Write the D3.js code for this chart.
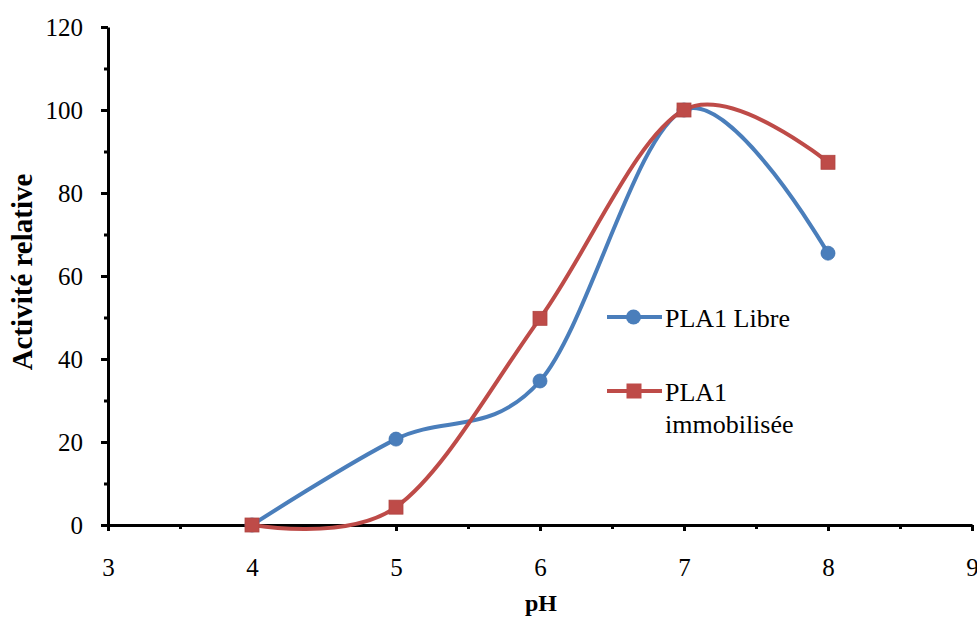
<!DOCTYPE html>
<html>
<head>
<meta charset="utf-8">
<script src="https://cdn.jsdelivr.net/npm/d3@7"></script>
<style>
  body { margin: 0; background: #fff; }
  svg text { font-family: "Liberation Serif", "Times New Roman", serif; fill: #000; }
</style>
</head>
<body>
<svg id="chart" width="977" height="618"></svg>
<script>
// data
var ph = [4, 5, 6, 7, 8];
var libre = [0, 20.7, 34.7, 100, 65.5];
var immob = [0, 4.3, 49.8, 100, 87.4];
var xTicks = [3, 4, 5, 6, 7, 8, 9];
var yTicks = [0, 20, 40, 60, 80, 100, 120];

const svg = d3.select('#chart');

var x = d3.scaleLinear().domain([3, 9]).range([108, 972]);
var y = d3.scaleLinear().domain([0, 120]).range([525, 27]);

// smoothed lines, like Excel
var line = d3.line()
    .x(function(d) { return x(d[0]); })
    .y(function(d) { return y(d[1]); })
    .curve(d3.curveCardinal.tension(0));

// minor ticks
svg.append('g')
    .attr('transform', 'translate(108,0)')
    .call(d3.axisLeft(y).tickValues(d3.range(10, 120, 20)).tickSize(4).tickFormat(''))
    .call(g => g.select('.domain').remove())
    .selectAll('line').attr('stroke', '#000').attr('stroke-width', 3);

svg.append('g')
    .attr('transform', 'translate(0,525)')
    .call(d3.axisBottom(x).tickValues(d3.range(3.5, 9, 1)).tickSize(4).tickFormat(''))
    .call(g => g.select('.domain').remove())
    .selectAll('line').attr('stroke', '#000').attr('stroke-width', 3);

// major axes
var yAxis = svg.append('g')
    .attr('transform', 'translate(108,0)')
    .call(d3.axisLeft(y).tickValues(yTicks).tickSize(7).tickSizeOuter(0).tickPadding(18).tickFormat(d3.format('d')));
yAxis.select('.domain').attr('stroke', '#000').attr('stroke-width', 3);
yAxis.selectAll('line').attr('stroke', '#000').attr('stroke-width', 3);
yAxis.selectAll('text').attr('font-size', 25).attr('font-family', '"Liberation Serif", serif');

var xAxis = svg.append('g')
    .attr('transform', 'translate(0,525)')
    .call(d3.axisBottom(x).tickValues(xTicks).tickSize(6).tickSizeOuter(0).tickPadding(27).tickFormat(d3.format('d')));
xAxis.select('.domain').attr('stroke', '#000').attr('stroke-width', 3);
xAxis.selectAll('line').attr('stroke', '#000').attr('stroke-width', 3);
xAxis.selectAll('text').attr('font-size', 25).attr('font-family', '"Liberation Serif", serif');

// axis titles
svg.append('text')
    .attr('x', 541).attr('y', 611)
    .attr('text-anchor', 'middle')
    .attr('font-size', 24).attr('font-weight', 'bold')
    .text('pH');

svg.append('text')
    .attr('transform', 'translate(32,272) rotate(-90)')
    .attr('text-anchor', 'middle')
    .attr('font-size', 29).attr('font-weight', 'bold')
    .text('Activité relative');

var blue = '#4a7ebb';
var red = '#be4b48';

// series
svg.append('path')
    .datum(d3.zip(ph, libre))
    .attr('fill', 'none')
    .attr('stroke', blue)
    .attr('stroke-width', 4)
    .attr('d', line);

svg.selectAll('.dotB')
    .data(d3.zip(ph, libre))
    .enter()
    .append('circle')
    .attr('class', 'dotB')
    .attr('cx', d => x(d[0]))
    .attr('cy', d => y(d[1]))
    .attr('r', 7)
    .attr('fill', blue)
    .attr('stroke', '#3f72b0')
    .attr('stroke-width', 0.8);

svg.append('path')
    .datum(d3.zip(ph, immob))
    .attr('fill', 'none')
    .attr('stroke', red)
    .attr('stroke-width', 4)
    .attr('d', line);

svg.selectAll('.sqR')
    .data(d3.zip(ph, immob))
    .enter()
    .append('rect')
    .attr('class', 'sqR')
    .attr('x', d => x(d[0]) - 7)
    .attr('y', d => y(d[1]) - 7)
    .attr('width', 14)
    .attr('height', 14)
    .attr('fill', red)
    .attr('stroke', '#b04542')
    .attr('stroke-width', 0.8);

// legend
var leg = svg.append('g');

leg.append('line')
    .attr('x1', 607).attr('x2', 662).attr('y1', 317).attr('y2', 317)
    .attr('stroke', blue).attr('stroke-width', 4);
leg.append('circle')
    .attr('cx', 633.5).attr('cy', 317).attr('r', 7.5).attr('fill', blue);
leg.append('text')
    .attr('x', 665).attr('y', 327)
    .attr('font-size', 26)
    .text('PLA1 Libre');

leg.append('line')
    .attr('x1', 607).attr('x2', 662).attr('y1', 391).attr('y2', 391)
    .attr('stroke', red).attr('stroke-width', 4);
leg.append('rect')
    .attr('x', 626.5).attr('y', 383.5).attr('width', 15).attr('height', 15).attr('fill', red);
leg.append('text')
    .attr('x', 665).attr('y', 401)
    .attr('font-size', 26)
    .text('PLA1');
leg.append('text')
    .attr('x', 665).attr('y', 433)
    .attr('font-size', 26)
    .text('immobilisée');
</script>
</body>
</html>
